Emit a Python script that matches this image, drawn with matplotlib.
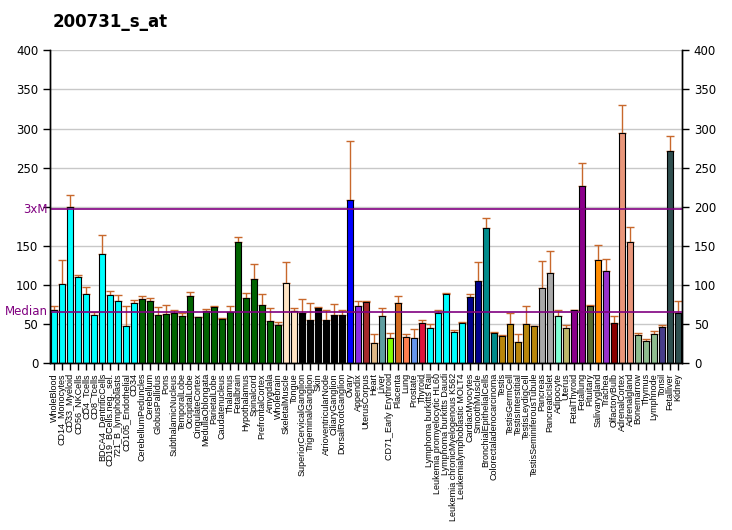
import matplotlib
matplotlib.use("Agg")
import matplotlib.pyplot as plt
import numpy as np

title = "200731_s_at"

tissues = [
    "WholeBlood", "CD14_Monocytes", "CD33_Myeloid", "CD56_NKCells", "CD4_Tcells",
    "CD8_Tcells", "BDCA4_DentriticCells", "CD19_BCells.neg._sel.", "721_B_lymphoblasts",
    "CD105_Endothelial", "CD34", "CerebellumPeduncles", "Cerebellum", "GlobusPallidus",
    "Pons", "SubthalamicNucleus", "TemporalLobe", "OccipitalLobe", "CingulateCortex",
    "MedullaOblongata", "ParietalLobe", "Caudatenucleus", "Thalamus", "Fetalbrain",
    "Hypothalamus", "Spinalcord", "PrefrontalCortex", "Amygdala", "Wholebrain",
    "SkeletalMuscle", "Tongue", "SuperiorCervicalGanglion", "TrigeminalGanglion", "Skin",
    "AtrioventricularNode", "CiliaryGanglion", "DorsalRootGanglion", "Ovary", "Appendix",
    "UterusCorpus", "Heart", "Liver", "CD71_Early Erythroid", "Placenta", "Lung",
    "Prostate", "Thyroid", "Lymphoma burkitts Raji", "Leukemia promyelocytic HL60",
    "Lymphoma burkitts Daudi", "Leukemia chronicMyelogenous K562",
    "Leukemialymphoblastic MOLT4", "CardiacMyocytes", "SmoothMuscle",
    "BronchialEpithelialCells", "Colorectaladenocarcinoma", "Testis", "TestisGermCell",
    "TestisInterstitial", "TestisLeydigCell", "TestisSeminiferousTubule", "Pancreas",
    "PancreaticIslet", "Adipocyte", "Uterus", "FetalThyroid", "Fetallung", "Pituitary",
    "Salivarygland", "Trachea", "OlfactoryBulb", "AdrenalCortex", "Adrenalgland",
    "Bonemarrow", "Thymus", "Lymphnode", "Tonsil", "Fetalliver", "Kidney",
]

values = [
    67.7, 101, 199.4, 110, 88.2, 61.3, 139.3, 86.9, 79.2, 47.3,
    76.7, 81.8, 79.2, 61.3, 62.6, 64.7, 60, 85.6, 58.8, 66.5,
    71.6, 56.2, 65.2, 154.6, 83, 107.4, 74.1, 53.7, 48.6, 102.2,
    66.5, 63.9, 55, 70.3, 55, 61.3, 61.3, 208.3, 72.8, 78,
    25.6, 60, 32, 76.7, 33.2, 32, 51.1, 44.7, 63.9, 88.2,
    39.6, 51.1, 84.3, 104.8, 172.5, 38.3, 34.5, 49.8, 26.8, 49.8,
    47.3, 95.9, 115, 60, 44.7, 67.7, 226.2, 72.8, 131.6, 117.6,
    51.1, 293.9, 154.6, 35.8, 28.1, 37, 46, 270.9, 63.9,
]

err_top = [
    72.8, 131.6, 214.7, 112.5, 97, 66, 163.6, 92, 86.9, 72.8,
    80.5, 85.6, 83, 71.6, 74.1, 67.7, 64, 90.7, 58.8, 69,
    72.8, 57.5, 72.8, 161, 89.5, 126.5, 88.2, 70.3, 52.4, 129,
    70.3, 81.8, 76.7, 71.6, 67.7, 75.4, 67.7, 283.7, 79.2, 79.2,
    37, 70.3, 38.3, 85.6, 37, 43.5, 55, 49.8, 67.7, 89.5,
    42.2, 52.4, 88.2, 129, 185.3, 39.6, 35.8, 63.9, 37, 72.8,
    47.3, 130.4, 143, 67.7, 48.6, 67.7, 256.5, 74.1, 150.8, 132.9,
    60, 329.7, 173.8, 38.3, 30.7, 40.9, 48.6, 290.1, 79.2,
]

colors = (
    ["cyan"] * 11 + ["darkgreen"] * 18 + ["bisque"] * 2 + ["black"] * 6
    + ["blue", "blueviolet", "brown", "burlywood", "cadetblue", "chartreuse",
       "chocolate", "coral", "cornflowerblue", "crimson"]
    + ["cyan"] * 5 + ["darkblue"] * 2 + ["darkcyan"] * 2 + ["darkgoldenrod"] * 5
    + ["darkgray"] * 2 + ["aquamarine", "darkkhaki"] + ["darkmagenta"] * 2
    + ["darkolivegreen", "darkorange", "darkorchid", "darkred"]
    + ["darksalmon"] * 2 + ["darkseagreen"] * 3 + ["darkslateblue"]
    + ["darkslategray"] * 2
)

median = 65.6
three_m = 3 * median

x = np.arange(len(tissues))
vals = np.array(values)
yerr = np.array(err_top) - vals

fig = plt.figure(figsize=(7.32, 5.30), dpi=100)
ax = fig.add_axes([50 / 732, 1 - 363.3 / 530, 632 / 732, 313 / 530])

for y in range(50, 401, 50):
    ax.axhline(y, color="#c8c8c8", lw=1, zorder=0)

ax.bar(x, vals, width=0.75, color=colors, edgecolor="black", linewidth=0.8, zorder=2)
ax.errorbar(x, vals, yerr=[np.zeros_like(yerr), yerr], fmt="none",
            ecolor="#c8682c", elinewidth=1, capsize=3, capthick=1, zorder=1)

ax.axhline(three_m, color="purple", lw=1.2, zorder=3)
ax.axhline(median, color="purple", lw=1.2, zorder=3)

ax.set_xlim(-0.5, len(tissues) - 0.5)
ax.set_ylim(0, 400)

ax.set_yticks(range(0, 401, 50))
ax.set_yticklabels(["0", "50", "100", "150", "", "250", "300", "350", "400"], fontsize=8.5)
ax.tick_params(axis="y", length=5, width=1)
ax.text(-0.8, three_m, "3xM", color="purple", fontsize=8.5, ha="right", va="center")
ax.text(-0.8, median, "Median", color="purple", fontsize=8.5, ha="right", va="center")

ax2 = ax.twinx()
ax2.set_ylim(0, 400)
ax2.set_yticks(range(0, 401, 50))
ax2.tick_params(axis="y", length=5, width=1, labelsize=8.5)

ax.set_xticks(x)
ax.set_xticklabels(tissues, rotation=90, fontsize=6.5, family="Liberation Sans")
ax.tick_params(axis="x", length=5, width=1, pad=2)

for a in (ax, ax2):
    a.spines["top"].set_visible(False)
    for s in ("left", "right", "bottom"):
        a.spines[s].set_linewidth(1)

fig.text(53 / 732, 1 - 22 / 530, title, fontsize=12, fontweight="bold", va="center")

fig.savefig("out.png", dpi=100)
